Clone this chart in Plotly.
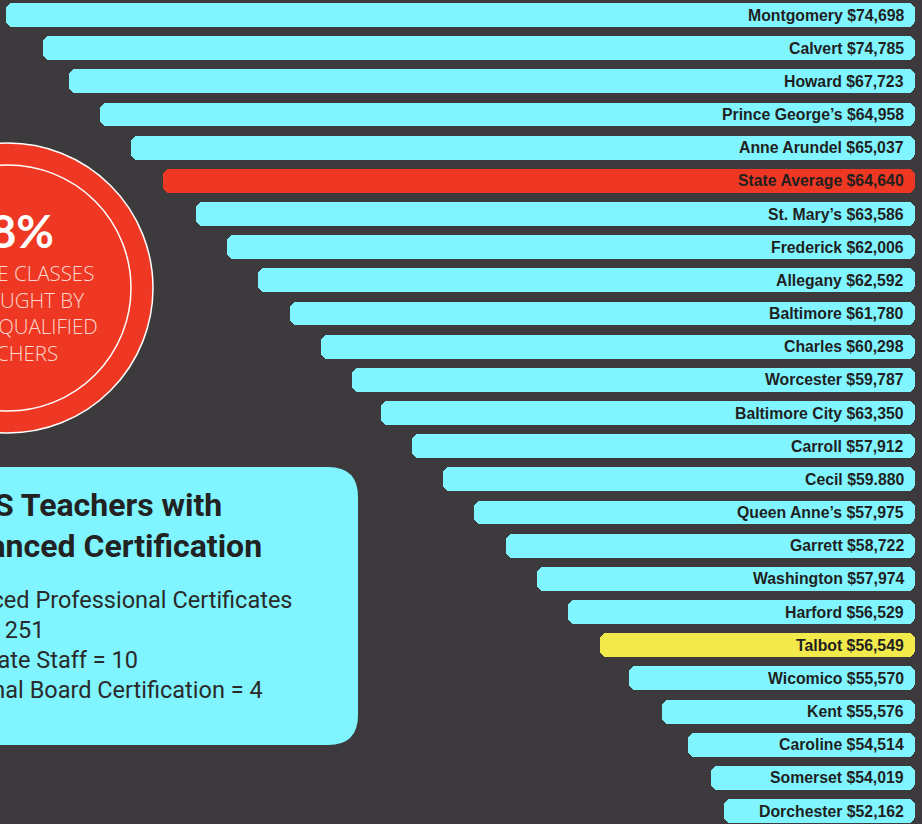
import plotly.graph_objects as go

# ---------------- data ----------------
counties = ["Montgomery", "Calvert", "Howard", "Prince George’s", "Anne Arundel",
            "State Average", "St. Mary’s", "Frederick", "Allegany", "Baltimore",
            "Charles", "Worcester", "Baltimore City", "Carroll", "Cecil",
            "Queen Anne’s", "Garrett", "Washington", "Harford", "Talbot",
            "Wicomico", "Kent", "Caroline", "Somerset", "Dorchester"]
salaries = [74698, 74785, 67723, 64958, 65037, 64640, 63586, 62006, 62592, 61780,
            60298, 59787, 63350, 57912, 59880, 57975, 58722, 57974, 56529, 56549,
            55570, 55576, 54514, 54019, 52162]
salary_labels = ["$74,698", "$74,785", "$67,723", "$64,958", "$65,037", "$64,640",
                 "$63,586", "$62,006", "$62,592", "$61,780", "$60,298", "$59,787",
                 "$63,350", "$57,912", "$59.880", "$57,975", "$58,722", "$57,974",
                 "$56,529", "$56,549", "$55,570", "$55,576", "$54,514", "$54,019",
                 "$52,162"]

circle_big = "98%"
circle_lines = ["OF CORE CLASSES", "ARE TAUGHT BY", "HIGHLY QUALIFIED", "TEACHERS"]
box_title = ["TCPS Teachers with", "Advanced Certification"]
box_lines = ["Advanced Professional Certificates", "= 251",
             "Doctorate Staff = 10", "National Board Certification = 4"]

# ---------------- layout / style (decorative funnel) ----------------
W, H = 922, 824
BG = "#3c3a3d"
CYAN = "#80f5ff"
RED = "#ee3823"
YELLOW = "#f2ea4b"
bar_left = [6, 43, 69, 100, 131, 163, 196, 227, 258, 290, 321, 352, 381, 412, 443,
            474, 506, 537, 568, 600, 629, 662, 688, 711, 724]
bar_right = 915
colors = [RED if c == "State Average" else YELLOW if c == "Talbot" else CYAN
          for c in counties]
mid = [(l + bar_right) / 2 for l in bar_left]
OV = 40  # overlap of the two halves so seams are hidden
CLEAR = "rgba(0,0,0,0)"
NOLINE = dict(width=0, color=CLEAR)
bar_kw = dict(y=counties, orientation="h", width=0.72, hoverinfo="skip",
              showlegend=False)

fig = go.Figure()
# right part: stacked on the normal x axis -> rounded right end
fig.add_trace(go.Bar(x=[m - OV for m in mid],
                     marker=dict(color=CLEAR, line=NOLINE), **bar_kw))
fig.add_trace(go.Bar(x=[bar_right - (m - OV) for m in mid],
                     marker=dict(color=colors, cornerradius=7, line=NOLINE),
                     **bar_kw))
# left part: stacked on a reversed overlay axis -> rounded left end
fig.add_trace(go.Bar(x=[W - (m + OV) for m in mid], xaxis="x2",
                     marker=dict(color=CLEAR, line=NOLINE), **bar_kw))
fig.add_trace(go.Bar(x=[(m + OV) - l for l, m in zip(bar_left, mid)], xaxis="x2",
                     marker=dict(color=colors, cornerradius=7, line=NOLINE),
                     **bar_kw))

labels = [f"{c} {s}" for c, s in zip(counties, salary_labels)]
for c, t in zip(counties, labels):
    fig.add_annotation(x=906, y=c, xref="x", yref="y", text=t, showarrow=False,
                       xanchor="right", yanchor="middle",
                       font=dict(family="Liberation Sans, Arial", size=15.8,
                                 color="#1f1f1f", weight="bold"))

def py(px):
    return 1 - px / H

# red circle
cx, cy, r = 8, 288, 145
fig.add_shape(type="circle", xref="x", yref="paper",
              x0=cx - r, x1=cx + r, y0=py(cy + r), y1=py(cy - r),
              fillcolor=RED, line=dict(color="white", width=1.5), layer="below")
ri = 123
fig.add_shape(type="circle", xref="x", yref="paper",
              x0=cx - ri, x1=cx + ri, y0=py(cy + ri), y1=py(cy - ri),
              fillcolor="rgba(0,0,0,0)", line=dict(color="white", width=1.5),
              layer="below")
fig.add_annotation(x=56, y=py(231), xref="x", yref="paper", text=circle_big,
                   showarrow=False, xanchor="right", yanchor="middle",
                   font=dict(family="Lato, Open Sans", size=46, color="white",
                             weight="bold"))
fig.add_annotation(x=cx + 2, y=py(312.5), xref="x", yref="paper",
                   text="<br>".join(circle_lines), align="center",
                   showarrow=False, xanchor="center", yanchor="middle",
                   font=dict(family="Open Sans", size=20.5,
                             color="rgba(255,225,220,0.95)", weight=300))

# cyan box
x0b, x1b, y0b, y1b, rad = -40, 358, 467, 745, 30
path = (f"M {x0b},{py(y0b)} L {x1b - rad},{py(y0b)} "
        f"Q {x1b},{py(y0b)} {x1b},{py(y0b + rad)} "
        f"L {x1b},{py(y1b - rad)} Q {x1b},{py(y1b)} {x1b - rad},{py(y1b)} "
        f"L {x0b},{py(y1b)} Z")
fig.add_shape(type="path", xref="x", yref="paper", path=path,
              fillcolor=CYAN, line=dict(width=0), layer="below")
for t, yy, xr in zip(box_title, [505, 546], [224, 264]):
    fig.add_annotation(x=xr, y=py(yy), xref="x", yref="paper", text=t,
                       showarrow=False, xanchor="right", yanchor="middle",
                       font=dict(family="Roboto", size=32, color="#222222",
                                 weight="bold"))
for t, yy, xr in zip(box_lines, [600, 630, 660, 690], [294, 46, 140, 265]):
    fig.add_annotation(x=xr, y=py(yy), xref="x", yref="paper", text=t,
                       showarrow=False, xanchor="right", yanchor="middle",
                       font=dict(family="Roboto", size=23.5, color="#2a2a2a"))

fig.update_layout(
    width=W, height=H, margin=dict(l=0, r=0, t=0, b=0),
    paper_bgcolor=BG, plot_bgcolor=BG, barmode="stack", bargap=0,
    xaxis=dict(range=[0, W], visible=False, fixedrange=True),
    xaxis2=dict(range=[W, 0], overlaying="x", visible=False, fixedrange=True),
    yaxis=dict(type="category", categoryorder="array", categoryarray=counties,
               range=[(H - 15) / 33.17, -15 / 33.17], visible=False,
               fixedrange=True),
    showlegend=False,
)

fig.write_html("out.html", config={"displayModeBar": False},
               post_script="document.body.style.margin='0';"
                           "document.documentElement.style.overflow='hidden';")
